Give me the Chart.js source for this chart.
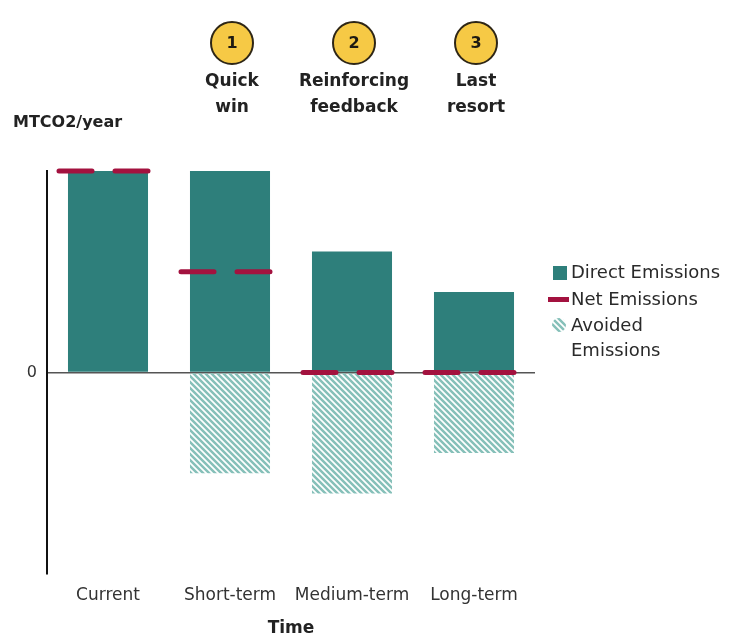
<!DOCTYPE html>
<html>
<head>
<meta charset="utf-8">
<script src="https://cdn.jsdelivr.net/npm/chart.js@4.4.1/dist/chart.umd.min.js"></script>
<style>
  html, body { margin: 0; padding: 0; background: #fff; }
  #wrap { width: 731px; height: 639px; }
</style>
</head>
<body>
<div id="wrap"><canvas id="chart" width="731" height="639"></canvas></div>
<script>
const categories = ['Current', 'Short-term', 'Medium-term', 'Long-term'];
const directEmissions = [100, 100, 60, 40];
const avoidedEmissions = [null, -50, -60, -40];
const netEmissions = [100, 50, 0, 0];
const stageNumbers = [null, '1', '2', '3'];
const stageLabels = [null, ['Quick', 'win'], ['Reinforcing', 'feedback'], ['Last', 'resort']];
const yTickLabels = {0: '0'};

const teal = '#2e7f7b';
const netRed = '#a3123f';
const font = 'DejaVu Sans';

// diagonal hatch for avoided emissions
function makeHatch() {
    const c = document.createElement('canvas');
    c.width = 6;
    c.height = 6;
    const g = c.getContext('2d');
    g.strokeStyle = '#86c0b9';
    g.lineWidth = 2.5;
    g.beginPath();
    g.moveTo(-1, -1); g.lineTo(7, 7);
    g.moveTo(-1, 5); g.lineTo(1, 7);
    g.moveTo(5, -1); g.lineTo(7, 1);
    g.stroke();
    return g.createPattern(c, 'repeat');
}
const ctx = document.getElementById('chart').getContext('2d');
const hatch = makeHatch();

const netDashes = {
    id: 'netDashes',
    afterDatasetsDraw(chart) {
        const meta = chart.getDatasetMeta(2);
        const c = chart.ctx;
        c.save();
        c.strokeStyle = netRed;
        c.lineWidth = 5;
        c.lineCap = 'round';
        meta.data.forEach(pt => {
            c.beginPath();
            c.moveTo(pt.x - 49, pt.y); c.lineTo(pt.x - 16, pt.y);
            c.moveTo(pt.x + 7, pt.y); c.lineTo(pt.x + 40, pt.y);
            c.stroke();
        });
        c.restore();
    }
};

const extras = {
    id: 'extras',
    afterDraw(chart) {
        const c = chart.ctx;
        const x = chart.scales.x;
        c.save();
        c.textAlign = 'center';
        c.textBaseline = 'middle';

        // stage markers above the bars
        stageNumbers.forEach((num, i) => {
            if (!num) return;
            const cx = x.getPixelForValue(i) + 2;
            c.beginPath();
            c.arc(cx, 43, 21, 0, Math.PI * 2);
            c.fillStyle = '#f6c945';
            c.fill();
            c.lineWidth = 2;
            c.strokeStyle = '#2e2616';
            c.stroke();
            c.fillStyle = '#1e1a12';
            c.font = 'bold 16px "' + font + '"';
            c.fillText(num, cx, 44);
            c.fillStyle = '#222';
            c.font = 'bold 17px "' + font + '"';
            stageLabels[i].forEach((line, k) => c.fillText(line, cx, 82 + k * 26));
        });

        // y axis unit
        c.textAlign = 'left';
        c.font = 'bold 16px "' + font + '"';
        c.fillStyle = '#222';
        c.fillText('MTCO2/year', 13, 123);

        // legend
        c.font = '18px "' + font + '"';
        c.fillStyle = teal;
        c.fillRect(553, 266, 14, 14);
        c.fillStyle = netRed;
        c.fillRect(548, 297, 21, 5);
        c.beginPath();
        c.arc(559, 325, 7, 0, Math.PI * 2);
        c.fillStyle = hatch;
        c.fill();
        c.fillStyle = '#2a2a2a';
        c.fillText('Direct Emissions', 571, 273);
        c.fillText('Net Emissions', 571, 300);
        c.fillText('Avoided', 571, 326);
        c.fillText('Emissions', 571, 351);
        c.restore();
    }
};

new Chart(ctx, {
    data: {
        labels: categories,
        datasets: [
            {
                type: 'bar',
                label: 'Direct Emissions',
                data: directEmissions,
                backgroundColor: teal,
                barPercentage: 0.656,
                categoryPercentage: 1
            },
            {
                type: 'bar',
                label: 'Avoided Emissions',
                data: avoidedEmissions,
                backgroundColor: hatch,
                barPercentage: 0.656,
                categoryPercentage: 1
            },
            {
                type: 'line',
                label: 'Net Emissions',
                data: netEmissions,
                showLine: false,
                pointRadius: 0
            }
        ]
    },
    options: {
        responsive: false,
        animation: false,
        layout: {padding: {top: 171, left: 10, right: 196, bottom: 0}},
        plugins: {legend: {display: false}, tooltip: {enabled: false}},
        scales: {
            x: {
                stacked: true,
                grid: {display: false},
                border: {display: false},
                ticks: {font: {family: font, size: 17}, color: '#333', padding: 3},
                title: {display: true, text: 'Time', font: {family: font, size: 17, weight: 'bold'}, color: '#222', padding: {top: 2, bottom: 0}},
                afterFit: s => { s.height = 65; }
            },
            y: {
                min: -100,
                max: 100,
                grid: {
                    color: c => c.tick && c.tick.value === 0 ? '#555' : 'transparent',
                    lineWidth: 1.5,
                    drawTicks: false
                },
                border: {display: true, color: '#111', width: 2},
                ticks: {
                    stepSize: 100,
                    padding: 10,
                    font: {family: font, size: 16},
                    color: '#333',
                    callback: v => yTickLabels[v] || ''
                },
                afterFit: s => { s.width = 37; }
            }
        }
    },
    plugins: [netDashes, extras]
});
</script>
</body>
</html>
